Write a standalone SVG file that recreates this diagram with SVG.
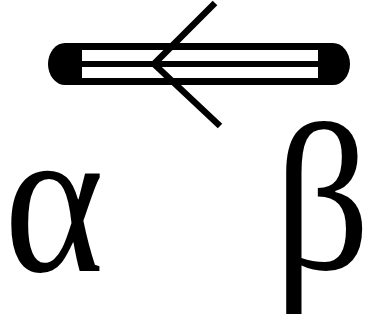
<svg xmlns="http://www.w3.org/2000/svg" width="370" height="322" viewBox="0 0 370 322">
<style>
.lbl{font-family:"Liberation Serif","Times New Roman",serif;fill:#000}
.leg{stroke:#000;stroke-width:6.5;fill:none;stroke-linecap:butt}
</style>
<rect width="370" height="322" fill="#fff"/>
<g id="bond">
<rect x="48" y="43" width="302" height="42" rx="17" ry="21" fill="#000"/>
<rect x="82" y="50" width="236" height="11" fill="#fff"/>
<rect x="82" y="67" width="236" height="11" fill="#fff"/>
</g>
<g id="connectors">
<polyline class="leg" points="215,3 154,64 220,126"/>
</g>
<g id="alpha"><text class="lbl" transform="translate(4,271) scale(0.9,1)" x="0" y="0" font-size="212">α</text></g>
<g id="beta"><text class="lbl" transform="translate(274,269) scale(0.9,1)" x="0" y="0" font-size="210">β</text></g>
</svg>
